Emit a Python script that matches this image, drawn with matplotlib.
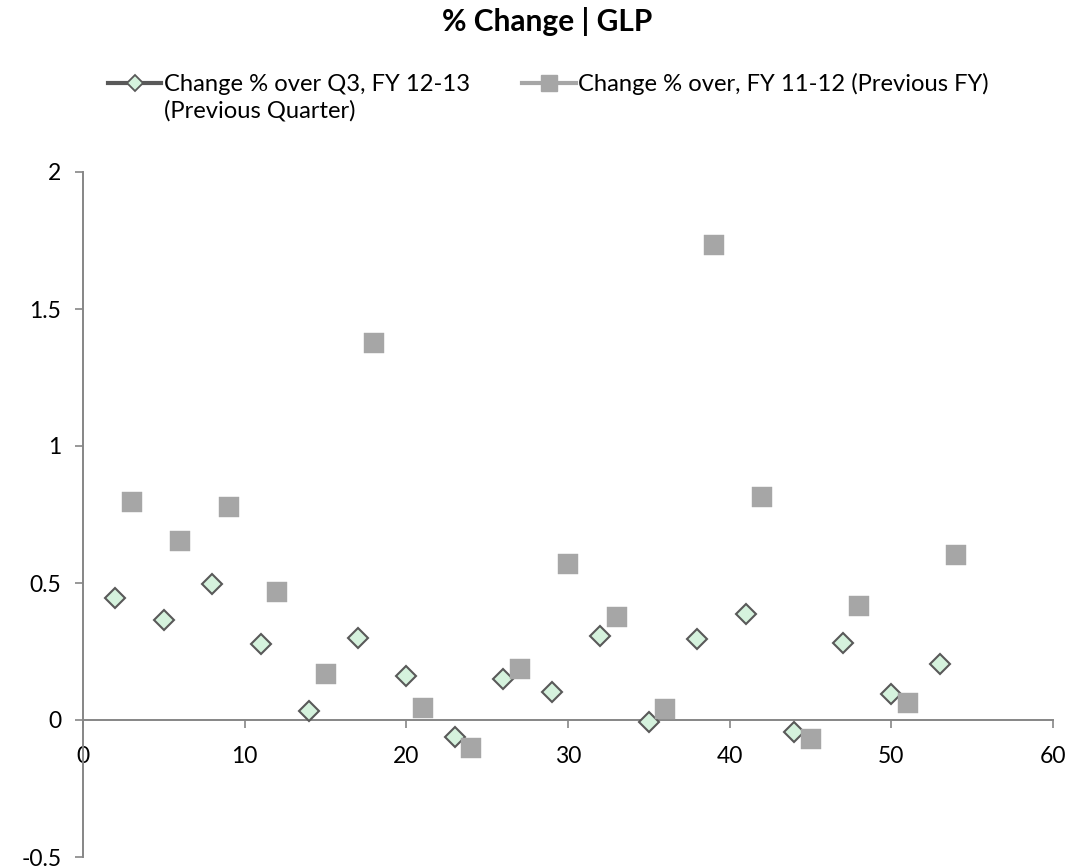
import matplotlib
matplotlib.use("Agg")
import matplotlib.pyplot as plt
from matplotlib.lines import Line2D
from matplotlib.ticker import FuncFormatter

plt.rcParams["font.family"] = ["Lato", "DejaVu Sans"]

# Change % over the previous quarter (Q3, FY 12-13)
x_quarter = [2, 5, 8, 11, 14, 17, 20, 23, 26, 29, 32, 35, 38, 41, 44, 47, 50, 53]
chg_prev_quarter = [0.445, 0.365, 0.496, 0.277, 0.033, 0.299, 0.160, -0.061, 0.148,
                    0.101, 0.308, -0.007, 0.294, 0.388, -0.043, 0.282, 0.095, 0.205]

# Change % over the previous financial year (FY 11-12)
x_year = [3, 6, 9, 12, 15, 18, 21, 24, 27, 30, 33, 36, 39, 42, 45, 48, 51, 54]
chg_prev_year = [0.796, 0.653, 0.777, 0.467, 0.168, 1.375, 0.043, -0.103, 0.186,
                 0.569, 0.376, 0.039, 1.735, 0.815, -0.071, 0.416, 0.061, 0.603]

title = "% Change | GLP"
label_quarter = "Change % over Q3, FY 12-13"
label_quarter_cont = "(Previous Quarter)"
label_year = "Change % over, FY 11-12 (Previous FY)"
x_ticks = [0, 10, 20, 30, 40, 50, 60]
y_ticks = [-0.5, 0, 0.5, 1, 1.5, 2]

W, H = 1073, 868
fig = plt.figure(figsize=(W / 100, H / 100), dpi=100)
ax = fig.add_axes([83 / W, 11 / H, 970 / W, 685 / H])

axis_grey = "#868686"
q_edge = "#595959"
q_fill = "#d5f2dd"
y_fill = "#a6a6a6"

ax.plot(x_quarter, chg_prev_quarter, linestyle="none", marker="D", ms=9.8,
        mfc=q_fill, mec=q_edge, mew=1.5, zorder=3, clip_on=False)
ax.plot(x_year, chg_prev_year, linestyle="none", marker="s", ms=14,
        mfc=y_fill, mec=y_fill, mew=0.3, zorder=4, clip_on=False)

ax.set_xlim(0, 60)
ax.set_ylim(-0.5, 2)
ax.set_xticks(x_ticks)
ax.set_yticks(y_ticks)
fmt = FuncFormatter(lambda v, _: "{:g}".format(v))
ax.xaxis.set_major_formatter(fmt)
ax.yaxis.set_major_formatter(fmt)

for side in ("top", "right"):
    ax.spines[side].set_visible(False)
ax.spines["bottom"].set_position(("data", 0))
for side in ("bottom", "left"):
    ax.spines[side].set_color(axis_grey)
    ax.spines[side].set_linewidth(1.4)

ax.tick_params(axis="both", direction="out", length=5.5, width=1.2,
               color=axis_grey, labelsize=16.5, labelcolor="black")
ax.tick_params(axis="x", pad=13)
ax.tick_params(axis="y", pad=10)
ax.patch.set_visible(False)

fig.text(547 / W, 1 - 22 / H, title, ha="center", va="center",
         fontsize=21.5, fontweight="bold")

handles = [
    Line2D([], [], color=q_edge, lw=3, marker="D", ms=8.5, mfc=q_fill, mec=q_edge, mew=1.3),
    Line2D([], [], color="#a6a6a6", lw=3, marker="s", ms=11, mfc=y_fill, mec=y_fill),
]
leg = fig.legend(handles, [label_quarter, label_year], ncol=2, frameon=False,
                 loc="center left", bbox_to_anchor=(108 / W, 1 - 84 / H),
                 fontsize=17.1, handlelength=2.25, handletextpad=0.1,
                 columnspacing=2.2, borderaxespad=0, borderpad=0)

fig.canvas.draw()
txt = leg.get_texts()[0]
bb = txt.get_window_extent()
fig.text(bb.x0 / W, (bb.y0 - 26) / H, label_quarter_cont, ha="left", va="bottom",
         fontsize=17.1)

fig.savefig("out.png", dpi=100)
